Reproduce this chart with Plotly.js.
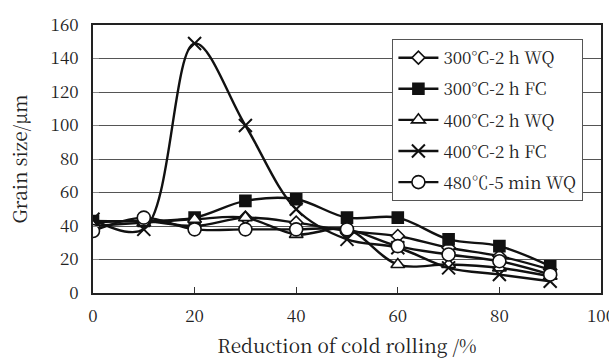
<!DOCTYPE html>
<html><head><meta charset="utf-8">
<script src="https://cdn.plot.ly/plotly-3.0.1.min.js"></script>
<style>html,body{margin:0;padding:0;background:#fff}</style>
</head><body>
<div id="chart" style="width:609px;height:359px"></div>
<script>
var reduction = [0, 10, 20, 30, 40, 50, 60, 70, 80, 90];
var wq300 = [42, 43, 40, 45, 42, 37, 34, 27, 22, 14];
var fc300 = [43, 43, 45, 55, 56, 45, 45, 32, 28, 16];
var wq400 = [40, 42, 44, 45, 35, 38, 17, 17, 15, 10];
var fc400 = [44, 38, 149, 100, 50, 32, 27, 15, 11, 7];
var wq480 = [37, 45, 38, 38, 38, 38, 28, 23, 19, 11];
var names = ["300°C-2 h WQ", "300°C-2 h FC", "400°C-2 h WQ", "400°C-2 h FC", "480℃-5 min WQ"];
var xTicks = [0, 20, 40, 60, 80, 100];
var yTicks = [0, 20, 40, 60, 80, 100, 120, 140, 160];

var series = [wq300, fc300, wq400, fc400, wq480];
var symbols = ["diamond", "square", "triangle-up", "x-thin", "circle"];
var fills = ["#fff", "#111", "#fff", "#111", "#fff"];
var sizes = [10, 11, 12, 13, 13];
var traces = series.map(function (ys, i) {
  return {
    x: reduction, y: ys, name: names[i], type: "scatter", mode: "lines+markers",
    line: {color: "#111", width: 2.4, shape: "spline", smoothing: 1},
    marker: {symbol: symbols[i], size: sizes[i], color: fills[i],
             line: {color: "#111", width: i === 3 ? 2 : 1.6}},
    legendgroup: "g" + i
  };
});

var fam = "Noto Serif CJK SC";
var tickFont = {family: fam, size: 17, color: "#222"};
var legFont = {family: fam, size: 17, color: "#222"};
var titleFont = {family: fam, size: 19, color: "#222"};
var layout = {
  width: 609, height: 359,
  margin: {l: 93, r: 8, t: 25, b: 66},
  paper_bgcolor: "#fff", plot_bgcolor: "#fff",
  font: tickFont,
  showlegend: true,
  legend: {x: 0.589, y: 0.948, xanchor: "left", yanchor: "top",
           bordercolor: "#555", borderwidth: 1.2, bgcolor: "#fff",
           font: legFont, tracegroupgap: 6, traceorder: "grouped", itemwidth: 40},
  xaxis: {range: [0, 100], tickvals: xTicks, ticks: "inside", ticklen: 6,
          tickcolor: "#333", showgrid: false, zeroline: false,
          showline: true, linecolor: "#222", linewidth: 2, mirror: true,
          ticklabeloverflow: "allow", ticklabelstandoff: 7,
          title: {text: "Reduction of cold rolling /%", font: titleFont, standoff: 13},
          tickfont: tickFont},
  yaxis: {range: [0, 160], tickvals: yTicks, ticks: "inside", ticklen: 6,
          tickcolor: "#888", showgrid: true, gridcolor: "#555", gridwidth: 1,
          zeroline: false, showline: true, linecolor: "#222", linewidth: 2, mirror: true,
          ticklabeloverflow: "allow", ticklabelstandoff: 9,
          title: {text: "Grain size/μm", font: titleFont, standoff: 18},
          tickfont: tickFont}
};
Plotly.newPlot("chart", traces, layout, {displayModeBar: false, staticPlot: true});
</script>
</body></html>
